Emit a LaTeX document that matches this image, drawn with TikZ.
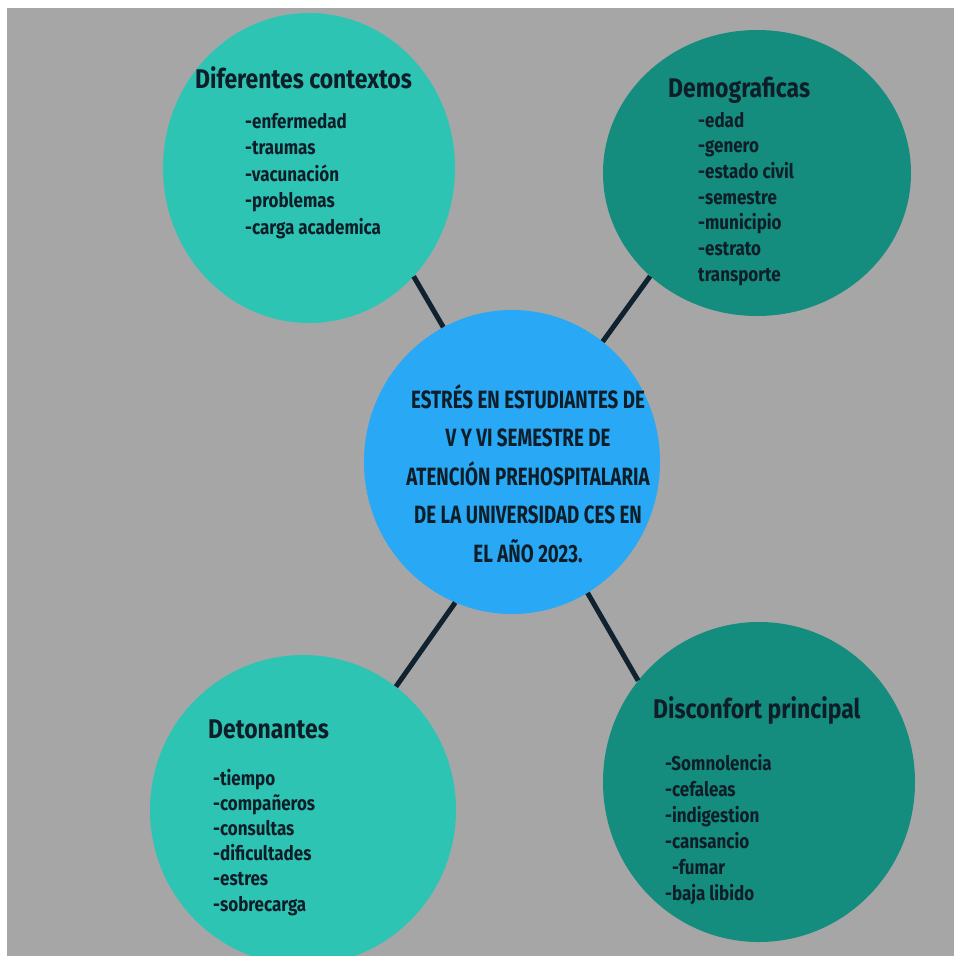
\documentclass[tikz,border=0pt]{standalone}
\usepackage{fontspec}
\usetikzlibrary{shapes.geometric}
\newfontfamily\titlefont[FakeStretch=0.85]{Fira Sans}
\newfontfamily\handfont[FakeStretch=0.85]{Fira Sans}
\newfontfamily\capfont[FakeStretch=0.75]{Fira Sans}
\definecolor{bggray}{RGB}{166,166,166}
\definecolor{turq}{RGB}{46,196,180}
\definecolor{darkteal}{RGB}{20,140,126}
\definecolor{skyblue}{RGB}{40,168,245}
\definecolor{ink}{RGB}{14,30,40}
\definecolor{linkcol}{RGB}{16,34,48}
\tikzset{
  blob/.style={ellipse, inner sep=0pt},
  title/.style={anchor=base west, inner sep=0pt, text=ink, font=\titlefont\bfseries\fontsize{27}{30}\selectfont},
  item/.style={anchor=base west, inner sep=0pt, text=ink, font=\handfont\bfseries\fontsize{20}{24}\selectfont},
  central/.style={anchor=base, inner sep=0pt, text=ink, font=\capfont\bfseries\fontsize{25}{28}\selectfont},
  link/.style={draw=linkcol, line width=5pt}
}
\begin{document}
\begin{tikzpicture}[x=1pt,y=-1pt]
\useasboundingbox (0,0) rectangle (954,956);
\fill[white] (0,0) rectangle (954,956);
\fill[bggray] (7,8) rectangle (954,956);
% circles
\node[blob, fill=turq, minimum width=292pt, minimum height=310pt] (tl) at (309,168) {};
\node[blob, fill=darkteal, minimum width=308pt, minimum height=286pt] (tr) at (757,173) {};
\node[blob, fill=skyblue, minimum width=296pt, minimum height=304pt] (c) at (512,462) {};
\node[blob, fill=turq, minimum width=306pt, minimum height=310pt] (bl) at (303,810) {};
\node[blob, fill=darkteal, minimum width=312pt, minimum height=320pt] (br) at (759,782) {};
% connectors
\draw[link] (tl.-46) -- (c.117);
\draw[link] (tr.224) -- (c.53);
\draw[link] (c.248) -- (bl.53);
\draw[link] (c.-60) -- (br.140);
% top-left
\node[title] (tlt) at (195,88) {Diferentes contextos};
\foreach \t [count=\i from 0] in {-enfermedad,-traumas,-vacunación,-problemas,-carga academica}
  \node[item] (tli\i) at (245,{128+26.5*\i}) {\t};
% top-right
\node[title] (trt) at (668,97) {Demograficas};
\foreach \t [count=\i from 0] in {-edad,-genero,-estado civil,-semestre,-municipio,-estrato,transporte}
  \node[item] (tri\i) at (698,{127+25.7*\i}) {\t};
% center
\foreach \t [count=\i from 0] in {ESTRÉS EN ESTUDIANTES DE,V Y VI SEMESTRE DE,ATENCIÓN PREHOSPITALARIA,DE LA UNIVERSIDAD CES EN,EL AÑO 2023.}
  \node[central] (cl\i) at (528,{408+38.5*\i}) {\t};
% bottom-left
\node[title] (blt) at (208,738) {Detonantes};
\foreach \t [count=\i from 0] in {-tiempo,-compañeros,-consultas,-dificultades,-estres,-sobrecarga}
  \node[item] (bli\i) at (213,{785+25.2*\i}) {\t};
% bottom-right
\node[title] (brt) at (653,718) {Disconfort principal};
\foreach \t/\dx [count=\i from 0] in {-Somnolencia/0,-cefaleas/0,-indigestion/0,-cansancio/0,-fumar/7,-baja libido/0}
  \node[item] (bri\i) at ({665+\dx},{770+26*\i}) {\t};
\end{tikzpicture}
\end{document}
